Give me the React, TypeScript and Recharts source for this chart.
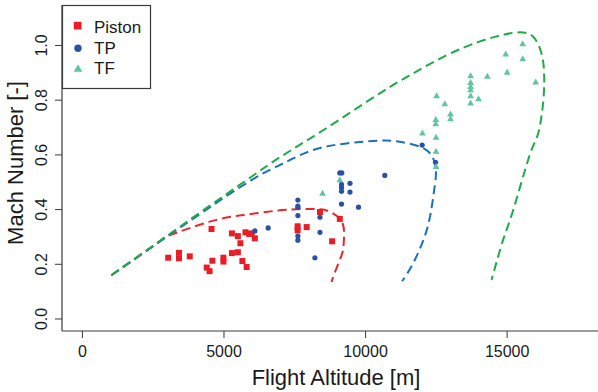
import React from "react";
import { ComposedChart, XAxis, YAxis, Scatter, Line, Label } from "recharts";

// tick values
const altTicks = [0, 5000, 10000, 15000];
const machTicks = [0, 0.2, 0.4, 0.6, 0.8, 1.0];
const legendNames = ["Piston", "TP", "TF"];

// [altitude m, Mach]
const pistonPts: [number, number][] = [
  [4560, 0.329], [5280, 0.313], [5490, 0.303], [5760, 0.317], [5890, 0.311], [5980, 0.313],
  [6090, 0.295], [5580, 0.277], [3030, 0.224], [3410, 0.242], [3410, 0.222], [3790, 0.229],
  [4590, 0.213], [4980, 0.224], [4980, 0.21], [5280, 0.241], [5490, 0.244], [5650, 0.212],
  [4390, 0.188], [4490, 0.175], [5800, 0.19], [7600, 0.339], [7600, 0.324], [7920, 0.336],
  [8390, 0.391], [9090, 0.366], [8820, 0.284],
];

const tpPts: [number, number][] = [
  [6090, 0.322], [6560, 0.333], [7610, 0.435], [7610, 0.413], [7610, 0.408], [7610, 0.378],
  [7610, 0.303], [7610, 0.288], [8390, 0.372], [8390, 0.317], [8210, 0.224], [9090, 0.534],
  [9160, 0.534], [9150, 0.492], [9150, 0.48], [9150, 0.467], [9450, 0.496], [9450, 0.464],
  [9150, 0.42], [9750, 0.409], [10680, 0.525], [12000, 0.636], [12470, 0.573],
];

const tfPts: [number, number][] = [
  [8480, 0.459], [9090, 0.508], [12010, 0.679], [12490, 0.663], [12490, 0.612], [12490, 0.556],
  [12510, 0.815], [12800, 0.786], [12480, 0.728], [12480, 0.713], [13000, 0.748], [13000, 0.731],
  [13710, 0.888], [13710, 0.864], [13710, 0.849], [13710, 0.837], [13710, 0.815], [13710, 0.789],
  [13990, 0.804], [14300, 0.886], [15000, 0.901], [14950, 0.968], [15550, 1.005], [15550, 0.95],
  [16010, 0.865],
];

// envelopes
const pistonEnv: [number, number][] = [
  [1020, 0.16], [2730, 0.284], [3090, 0.307], [4500, 0.356], [5680, 0.38], [6860, 0.396],
  [7800, 0.402], [8390, 0.401], [8740, 0.392], [9150, 0.358], [9240, 0.301], [9200, 0.25],
  [9090, 0.216], [8860, 0.155], [8800, 0.135],
];

const tpEnv: [number, number][] = [
  [1020, 0.16], [2730, 0.283], [4300, 0.394], [5970, 0.508], [7090, 0.569], [8150, 0.618],
  [9330, 0.642], [10500, 0.652], [11210, 0.648], [11920, 0.63], [12270, 0.606], [12450, 0.569],
  [12480, 0.52], [12390, 0.447], [12160, 0.325], [11680, 0.204], [11290, 0.138],
];

const tfEnv: [number, number][] = [
  [1020, 0.16], [2730, 0.285], [4300, 0.4], [5800, 0.508], [7000, 0.593], [8500, 0.69],
  [10500, 0.825], [11680, 0.898], [12860, 0.964], [14040, 1.015], [14900, 1.04], [15450, 1.048],
  [15920, 1.032], [16200, 0.975], [16300, 0.91], [16280, 0.8], [16100, 0.68], [15800, 0.6],
  [15220, 0.4], [14860, 0.29], [14450, 0.143],
];

const rows = (pts: [number, number][]) => pts.map(([alt, mach]) => ({ alt, mach }));

const RED = "#ec1c24";
const BLUE = "#2a52a4";
const TEAL = "#66c3a0";
const FONT = "'Liberation Sans', Arial, sans-serif";
const AX = "#3a3a3a";

const AltTick = ({ x, y, payload }: any) => (
  <text x={x} y={y} dy={16.5} textAnchor="middle" fontSize={16} fill="#1a1a1a" fontFamily={FONT}>
    {payload.value}
  </text>
);

const MachTick = ({ x, y, payload }: any) => (
  <text
    x={x - 6}
    y={y}
    textAnchor="middle"
    fontSize={16}
    fill="#1a1a1a"
    fontFamily={FONT}
    transform={`rotate(-90, ${x - 6}, ${y})`}
  >
    {Number(payload.value).toFixed(1)}
  </text>
);

const Square = (p: any) => <rect x={p.cx - 3} y={p.cy - 3} width={6} height={6} fill={RED} />;
const Dot = (p: any) => <circle cx={p.cx} cy={p.cy} r={2.6} fill={BLUE} />;
const Tri = (p: any) => (
  <polygon points={`${p.cx},${p.cy - 3.8} ${p.cx + 3.4},${p.cy + 2.2} ${p.cx - 3.4},${p.cy + 2.2}`} fill={TEAL} />
);

export default function App() {
  return (
    <div style={{ position: "absolute", left: 0, top: 0, width: 598, height: 392, background: "#fff" }}>
      <ComposedChart width={598} height={392} margin={{ top: 5, right: 0, bottom: 0, left: 0 }}>
        <XAxis
          dataKey="alt"
          type="number"
          domain={[-721, 18209]}
          allowDataOverflow
          ticks={altTicks}
          tick={<AltTick />}
          tickSize={7}
          height={61}
          axisLine={{ stroke: AX, strokeWidth: 1.2 }}
          tickLine={{ stroke: AX }}
        >
          <Label
            content={({ viewBox }: any) => (
              <text
                x={viewBox.x + viewBox.width / 2 + 6}
                y={viewBox.y + 54}
                textAnchor="middle"
                fontSize={22}
                fill="#1a1a1a"
                fontFamily={FONT}
              >
                Flight Altitude [m]
              </text>
            )}
          />
        </XAxis>
        <XAxis
          xAxisId="top"
          orientation="top"
          type="number"
          domain={[-721, 18209]}
          height={0}
          tick={false}
          tickLine={false}
          axisLine={{ stroke: AX, strokeWidth: 1.2 }}
        />
        <YAxis
          dataKey="mach"
          type="number"
          domain={[-0.0439, 1.148]}
          allowDataOverflow
          ticks={machTicks}
          tick={<MachTick />}
          tickSize={7}
          width={62}
          axisLine={{ stroke: AX, strokeWidth: 1.2 }}
          tickLine={{ stroke: AX }}
        >
          <Label
            content={({ viewBox }: any) => {
              const cx = viewBox.x + 23;
              const cy = viewBox.y + viewBox.height / 2 - 5;
              return (
                <text
                  x={cx}
                  y={cy}
                  textAnchor="middle"
                  fontSize={22}
                  fill="#1a1a1a"
                  fontFamily={FONT}
                  transform={`rotate(-90, ${cx}, ${cy})`}
                >
                  Mach Number [-]
                </text>
              );
            }}
          />
        </YAxis>
        <Line data={rows(pistonEnv)} dataKey="mach" type="natural" stroke="#e8262e" strokeWidth={2} strokeDasharray="9 5" dot={false} isAnimationActive={false} />
        <Line data={rows(tpEnv)} dataKey="mach" type="natural" stroke="#1b70bd" strokeWidth={2} strokeDasharray="9 5" dot={false} isAnimationActive={false} />
        <Line data={rows(tfEnv)} dataKey="mach" type="natural" stroke="#1fab48" strokeWidth={2} strokeDasharray="9 5" dot={false} isAnimationActive={false} />
        <Scatter name="Piston" data={rows(pistonPts)} shape={<Square />} isAnimationActive={false} />
        <Scatter name="TP" data={rows(tpPts)} shape={<Dot />} isAnimationActive={false} />
        <Scatter name="TF" data={rows(tfPts)} shape={<Tri />} isAnimationActive={false} />
      </ComposedChart>
      <svg width={598} height={392} style={{ position: "absolute", left: 0, top: 0, pointerEvents: "none" }}>
        <rect x={62.5} y={5.5} width={88} height={83} fill="#fff" stroke={AX} strokeWidth={1.2} />
        <rect x={73.8} y={21.8} width={7.7} height={7.7} fill={RED} />
        <circle cx={78} cy={48.3} r={3.7} fill={BLUE} />
        <polygon points="78,64.2 82.4,71.8 73.6,71.8" fill={TEAL} />
        {legendNames.map((n, i) => (
          <text key={n} x={94} y={33.3 + i * 20.4} fontSize={17} fill="#1a1a1a" fontFamily={FONT}>
            {n}
          </text>
        ))}
      </svg>
    </div>
  );
}
